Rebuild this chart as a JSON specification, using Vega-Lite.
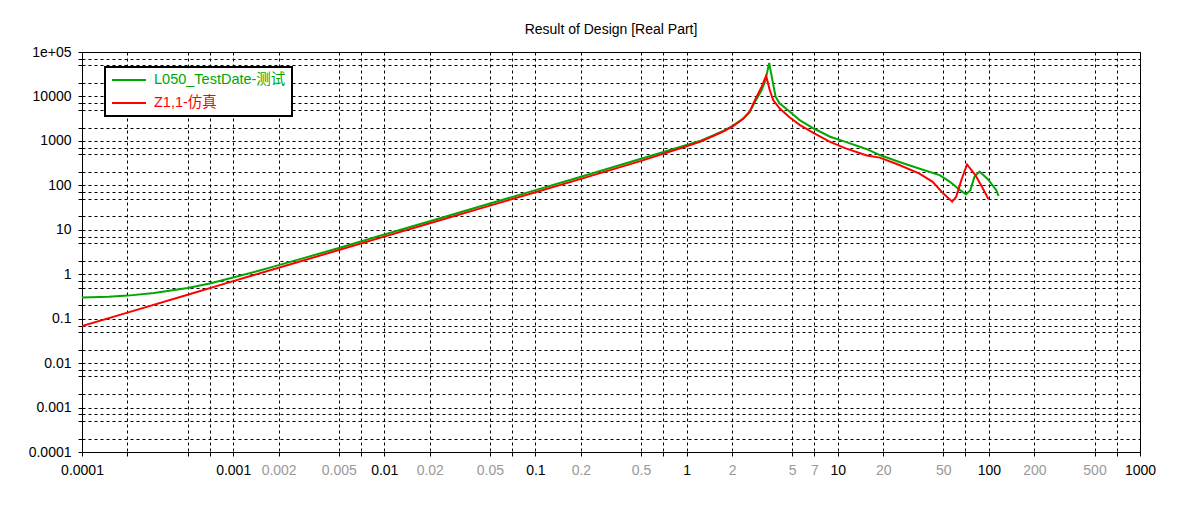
{
  "$schema": "https://vega.github.io/schema/vega-lite/v6.json",
  "width": 1058,
  "height": 400,
  "autosize": {"type": "none"},
  "padding": {"left": 82, "top": 52, "right": 37, "bottom": 59},
  "background": "white",
  "title": {"text": "Result of Design [Real Part]", "fontSize": 14, "fontWeight": "normal", "font": "Liberation Sans", "color": "black", "anchor": "middle", "offset": 8},
  "config": {
    "view": {"stroke": "black", "strokeWidth": 1},
    "legend": {"strokeColor": "black", "fillColor": "white", "padding": 6},
    "axis": {
      "title": null,
      "grid": true,
      "gridColor": "black",
      "gridDash": [3, 3],
      "gridWidth": 1,
      "gridOpacity": 1,
      "domainColor": "black",
      "domainWidth": 1,
      "tickColor": "black",
      "tickSize": 4,
      "tickWidth": 1,
      "labelFontSize": 14,
      "labelFont": "Liberation Sans",
      "labelColor": "black",
      "labelOverlap": false,
      "labelBound": false,
      "labelFlush": false
    }
  },
  "datasets": {
    "curves": [
      {"s": "L050_TestDate-测试", "f": 0.0001, "v": 0.30},
      {"s": "L050_TestDate-测试", "f": 0.00015, "v": 0.31},
      {"s": "L050_TestDate-测试", "f": 0.0002, "v": 0.33},
      {"s": "L050_TestDate-测试", "f": 0.0003, "v": 0.38},
      {"s": "L050_TestDate-测试", "f": 0.0005, "v": 0.49},
      {"s": "L050_TestDate-测试", "f": 0.0007, "v": 0.62},
      {"s": "L050_TestDate-测试", "f": 0.001, "v": 0.84},
      {"s": "L050_TestDate-测试", "f": 0.0015, "v": 1.21},
      {"s": "L050_TestDate-测试", "f": 0.002, "v": 1.6},
      {"s": "L050_TestDate-测试", "f": 0.003, "v": 2.36},
      {"s": "L050_TestDate-测试", "f": 0.005, "v": 3.9},
      {"s": "L050_TestDate-测试", "f": 0.01, "v": 7.8},
      {"s": "L050_TestDate-测试", "f": 0.02, "v": 15.6},
      {"s": "L050_TestDate-测试", "f": 0.05, "v": 39},
      {"s": "L050_TestDate-测试", "f": 0.1, "v": 78},
      {"s": "L050_TestDate-测试", "f": 0.2, "v": 156},
      {"s": "L050_TestDate-测试", "f": 0.5, "v": 395},
      {"s": "L050_TestDate-测试", "f": 1, "v": 810},
      {"s": "L050_TestDate-测试", "f": 1.24, "v": 1010},
      {"s": "L050_TestDate-测试", "f": 1.5, "v": 1330},
      {"s": "L050_TestDate-测试", "f": 1.76, "v": 1700},
      {"s": "L050_TestDate-测试", "f": 2.03, "v": 2200},
      {"s": "L050_TestDate-测试", "f": 2.36, "v": 3150},
      {"s": "L050_TestDate-测试", "f": 2.62, "v": 4500},
      {"s": "L050_TestDate-测试", "f": 2.8, "v": 7000},
      {"s": "L050_TestDate-测试", "f": 3.14, "v": 14000},
      {"s": "L050_TestDate-测试", "f": 3.3, "v": 21600},
      {"s": "L050_TestDate-测试", "f": 3.41, "v": 34000},
      {"s": "L050_TestDate-测试", "f": 3.52, "v": 57000},
      {"s": "L050_TestDate-测试", "f": 3.66, "v": 28000},
      {"s": "L050_TestDate-测试", "f": 3.88, "v": 9900},
      {"s": "L050_TestDate-测试", "f": 4.12, "v": 7000},
      {"s": "L050_TestDate-测试", "f": 4.8, "v": 4600},
      {"s": "L050_TestDate-测试", "f": 5.6, "v": 2940},
      {"s": "L050_TestDate-测试", "f": 6.95, "v": 1900},
      {"s": "L050_TestDate-测试", "f": 8.9, "v": 1240},
      {"s": "L050_TestDate-测试", "f": 11.3, "v": 950},
      {"s": "L050_TestDate-测试", "f": 15.6, "v": 650},
      {"s": "L050_TestDate-测试", "f": 19, "v": 480},
      {"s": "L050_TestDate-测试", "f": 25.3, "v": 340},
      {"s": "L050_TestDate-测试", "f": 34.5, "v": 240},
      {"s": "L050_TestDate-测试", "f": 47.2, "v": 170},
      {"s": "L050_TestDate-测试", "f": 55.3, "v": 120},
      {"s": "L050_TestDate-测试", "f": 60, "v": 95},
      {"s": "L050_TestDate-测试", "f": 64.5, "v": 78},
      {"s": "L050_TestDate-测试", "f": 70.7, "v": 63},
      {"s": "L050_TestDate-测试", "f": 75.5, "v": 78},
      {"s": "L050_TestDate-测试", "f": 80.2, "v": 155},
      {"s": "L050_TestDate-测试", "f": 86.8, "v": 204},
      {"s": "L050_TestDate-测试", "f": 98.5, "v": 137},
      {"s": "L050_TestDate-测试", "f": 112, "v": 78},
      {"s": "L050_TestDate-测试", "f": 116, "v": 58},
      {"s": "Z1,1-仿真", "f": 0.0001, "v": 0.068},
      {"s": "Z1,1-仿真", "f": 0.0002, "v": 0.137},
      {"s": "Z1,1-仿真", "f": 0.0005, "v": 0.345},
      {"s": "Z1,1-仿真", "f": 0.001, "v": 0.70},
      {"s": "Z1,1-仿真", "f": 0.002, "v": 1.4},
      {"s": "Z1,1-仿真", "f": 0.005, "v": 3.5},
      {"s": "Z1,1-仿真", "f": 0.01, "v": 7.0},
      {"s": "Z1,1-仿真", "f": 0.02, "v": 14},
      {"s": "Z1,1-仿真", "f": 0.05, "v": 35},
      {"s": "Z1,1-仿真", "f": 0.1, "v": 70},
      {"s": "Z1,1-仿真", "f": 0.2, "v": 140},
      {"s": "Z1,1-仿真", "f": 0.5, "v": 355},
      {"s": "Z1,1-仿真", "f": 1, "v": 760},
      {"s": "Z1,1-仿真", "f": 1.24, "v": 970},
      {"s": "Z1,1-仿真", "f": 1.5, "v": 1290},
      {"s": "Z1,1-仿真", "f": 1.76, "v": 1640},
      {"s": "Z1,1-仿真", "f": 2.03, "v": 2150},
      {"s": "Z1,1-仿真", "f": 2.36, "v": 3100},
      {"s": "Z1,1-仿真", "f": 2.62, "v": 4600},
      {"s": "Z1,1-仿真", "f": 2.8, "v": 7600},
      {"s": "Z1,1-仿真", "f": 3.14, "v": 16600},
      {"s": "Z1,1-仿真", "f": 3.36, "v": 29000},
      {"s": "Z1,1-仿真", "f": 3.55, "v": 14000},
      {"s": "Z1,1-仿真", "f": 3.74, "v": 8300},
      {"s": "Z1,1-仿真", "f": 4.12, "v": 5400},
      {"s": "Z1,1-仿真", "f": 4.8, "v": 3400},
      {"s": "Z1,1-仿真", "f": 5.6, "v": 2300},
      {"s": "Z1,1-仿真", "f": 6.95, "v": 1490},
      {"s": "Z1,1-仿真", "f": 8.9, "v": 950},
      {"s": "Z1,1-仿真", "f": 11.3, "v": 680},
      {"s": "Z1,1-仿真", "f": 15.6, "v": 470},
      {"s": "Z1,1-仿真", "f": 19, "v": 420},
      {"s": "Z1,1-仿真", "f": 25.3, "v": 290},
      {"s": "Z1,1-仿真", "f": 34.5, "v": 186},
      {"s": "Z1,1-仿真", "f": 42.5, "v": 120},
      {"s": "Z1,1-仿真", "f": 49.8, "v": 66},
      {"s": "Z1,1-仿真", "f": 57.2, "v": 43},
      {"s": "Z1,1-仿真", "f": 60.8, "v": 55},
      {"s": "Z1,1-仿真", "f": 65.8, "v": 132},
      {"s": "Z1,1-仿真", "f": 71.7, "v": 295},
      {"s": "Z1,1-仿真", "f": 81.4, "v": 170},
      {"s": "Z1,1-仿真", "f": 90, "v": 93},
      {"s": "Z1,1-仿真", "f": 99.4, "v": 49}
    ]
  },
  "data": {"name": "curves"},
  "mark": {"type": "line", "strokeWidth": 2, "clip": true},
  "encoding": {
    "x": {
      "field": "f",
      "type": "quantitative",
      "scale": {"type": "log", "domain": [0.0001, 1000], "nice": false},
      "axis": {
        "values": [0.0001, 0.0002, 0.0005, 0.0007, 0.001, 0.002, 0.005, 0.007, 0.01, 0.02, 0.05, 0.07, 0.1, 0.2, 0.5, 0.7, 1, 2, 5, 7, 10, 20, 50, 70, 100, 200, 500, 700, 1000],
        "labelPadding": 7,
        "labelExpr": "indexof(['0.0002','0.0005','0.0007','0.007','0.07','0.7','70','700'], format(datum.value, '~g')) >= 0 ? '' : format(datum.value, '~g')",
        "labelColor": {
          "condition": {"test": "abs(log(datum.value) / LN10 - round(log(datum.value) / LN10)) < 0.000001", "value": "black"},
          "value": "#999999"
        }
      }
    },
    "y": {
      "field": "v",
      "type": "quantitative",
      "scale": {"type": "log", "domain": [0.0001, 100000], "nice": false},
      "axis": {
        "values": [0.0001, 0.0002, 0.0005, 0.0007, 0.001, 0.002, 0.005, 0.007, 0.01, 0.02, 0.05, 0.07, 0.1, 0.2, 0.5, 0.7, 1, 2, 5, 7, 10, 20, 50, 70, 100, 200, 500, 700, 1000, 2000, 5000, 7000, 10000, 20000, 50000, 70000, 100000],
        "labelPadding": 7,
        "labelExpr": "abs(log(datum.value) / LN10 - round(log(datum.value) / LN10)) < 0.000001 ? (datum.value > 99999 ? '1e+05' : format(datum.value, '~g')) : ''"
      }
    },
    "color": {
      "field": "s",
      "type": "nominal",
      "scale": {"domain": ["L050_TestDate-测试", "Z1,1-仿真"], "range": ["#00a800", "#ff0000"]},
      "legend": {
        "title": null,
        "orient": "none",
        "legendX": 23,
        "legendY": 15,
        "direction": "vertical",
        "symbolType": "stroke",
        "symbolSize": 1156,
        "symbolStrokeWidth": 2,
        "clipHeight": 14,
        "labelFontSize": 14.5,
        "labelFont": "Liberation Sans, Noto Sans CJK SC",
        "labelOffset": 7,
        "rowPadding": 8,
        "labelLimit": 300,
        "encode": {
          "legend": {"update": {"stroke": {"value": "black"}, "strokeWidth": {"value": 2}, "fill": {"value": "white"}}},
          "labels": {"update": {"fill": {"signal": "datum.value === 'Z1,1-仿真' ? '#ff0000' : '#00a800'"}}}
        }
      }
    }
  }
}
